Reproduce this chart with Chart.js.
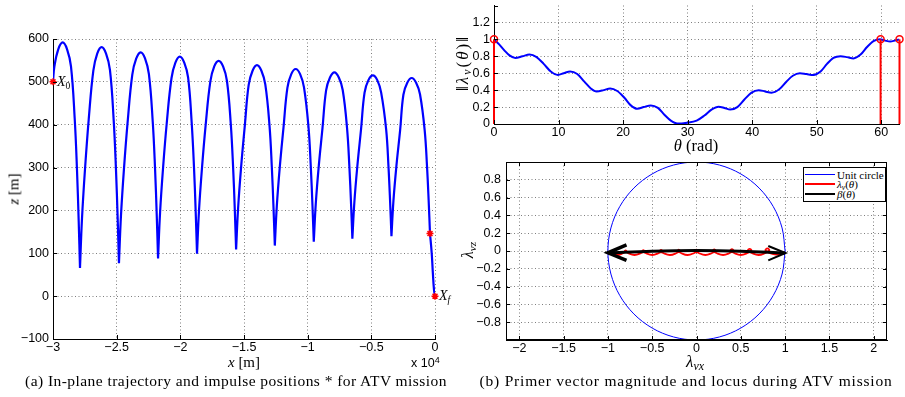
<!DOCTYPE html>
<html><head><meta charset="utf-8">
<script src="https://cdn.jsdelivr.net/npm/chart.js@4.4.1/dist/chart.umd.min.js"></script>
<style>
html,body{margin:0;padding:0;background:#fff;}
#wrap{position:relative;width:905px;height:397px;overflow:hidden;background:#fff;}
canvas{position:absolute;}
.t{position:absolute;font-family:"Liberation Serif","Times New Roman",serif;color:#000;white-space:nowrap;line-height:1;z-index:5;}
.c{transform:translate(-50%,-50%);}
.r{transform:translate(-50%,-50%) rotate(-90deg);}
sub{font-size:70%;vertical-align:-0.3em;line-height:0;}
sup{font-size:72%;vertical-align:0.45em;line-height:0;}
.leg{position:absolute;border:1px solid #000;background:#fff;z-index:6;box-sizing:border-box;}
.leg .ln{position:absolute;left:1px;width:30px;}
.leg .lt{position:absolute;left:33px;font-family:"Liberation Serif","Times New Roman",serif;font-size:11px;line-height:1;transform:translateY(-50%);white-space:nowrap;}
</style></head>
<body><div id="wrap">
<canvas id="cA" width="470" height="397" style="left:0;top:0;width:470px;height:397px"></canvas>
<canvas id="cB" width="455" height="155" style="left:450px;top:0;width:455px;height:155px"></canvas>
<canvas id="cC" width="455" height="242" style="left:450px;top:155px;width:455px;height:242px"></canvas>

<div class="t r" style="left:14px;top:189px;font-size:15px"><i>z</i> [m]</div>
<div class="t c" style="left:244px;top:362px;font-size:15px"><i>x</i> [m]</div>
<div class="t" style="left:411px;top:357px;font-family:'Liberation Sans',Arial,sans-serif;font-size:12.5px">x 10<sup>4</sup></div>
<div class="t r" style="left:462px;top:63px;font-size:17px;letter-spacing:2px">‖<i>λ<sub>v</sub></i>(<i>θ</i>)‖</div>
<div class="t c" style="left:696px;top:146px;font-size:16.5px"><i>θ</i> (rad)</div>
<div class="t r" style="left:468px;top:250px;font-size:16px"><i>λ<sub>vz</sub></i></div>
<div class="t c" style="left:695px;top:361px;font-size:17px"><i>λ<sub>vx</sub></i></div>
<div class="t c" style="left:236px;top:381px;font-size:15.5px;letter-spacing:0.45px">(a) In-plane trajectory and impulse positions * for ATV mission</div>
<div class="t c" style="left:686px;top:381px;font-size:15.5px;letter-spacing:0.8px">(b) Primer vector magnitude and locus during ATV mission</div>

<div class="leg" style="left:803px;top:167px;width:83px;height:35px">
  <div class="ln" style="top:6px;height:1px;background:#00f"></div><div class="lt" style="top:6.5px">Unit circle</div>
  <div class="ln" style="top:14.5px;height:2px;background:#f00"></div><div class="lt" style="top:15.5px"><i>λ<sub>v</sub></i>(<i>θ</i>)</div>
  <div class="ln" style="top:24.5px;height:2.5px;background:#000"></div><div class="lt" style="top:25.5px"><i>β</i>(<i>θ</i>)</div>
</div>
</div>
<script>
// ---------- (a) in-plane trajectory ----------
const trajX = [
-30000,-29890,-29587,-29240,-28893,-28588,-28297,-28116,-27982,-27880,
-27880,-27723,-27487,-27196,-26832,-26527,-26180,-25833,-25528,-25237,-25056,-24922,-24820,
-24820,-24663,-24427,-24136,-23772,-23467,-23120,-22773,-22468,-22167,-21986,-21852,-21750,
-21750,-21593,-21357,-21066,-20692,-20387,-20040,-19693,-19388,-19107,-18926,-18792,-18690,
-18690,-18533,-18297,-18006,-17642,-17337,-16990,-16643,-16338,-16037,-15856,-15722,-15620,
-15620,-15463,-15227,-14936,-14632,-14327,-13980,-13633,-13328,-12997,-12816,-12682,-12580,
-12580,-12423,-12187,-11896,-11592,-11287,-10940,-10593,-10288,-9937,-9756,-9622,-9520,
-9520,-9363,-9127,-8836,-8552,-8247,-7900,-7553,-7248,-6907,-6726,-6592,-6490,
-6490,-6333,-6097,-5806,-5532,-5227,-4880,-4533,-4228,-3837,-3656,-3522,-3420,
-3420,-3263,-3027,-2736,-2482,-2177,-1830,-1483,-1178,-810,-629,-495,-393,
-393,-260,-170,-80,0];
const trajZ = [
500,536,576,592,576,536,415,295,175,66,
66,181,296,412,526,566,581,566,528,412,297,182,77,
77,187,297,407,517,554,569,555,518,407,298,188,88,
88,194,299,404,509,545,559,545,510,404,300,195,99,
99,200,300,401,501,536,549,536,502,401,301,201,109,
109,205,301,398,493,526,539,526,494,398,302,206,118,
118,210,302,394,486,518,530,518,487,395,303,211,127,
127,216,304,392,480,510,522,510,481,392,303,215,134,
134,219,304,390,475,504,515,504,475,389,304,218,140,
140,223,305,388,470,498,509,498,471,387,304,221,146,
146,101,55,15,0];
const impX = [-30000, -393, 0];
const impZ = [500, 146, 0];
const pointNames = ['X', '', 'X'];
const pointSubs = ['0', '', 'f'];
const xTicksA = {min:-30000, max:0, step:5000};
const zTicksA = {min:-100, max:600, step:100};

// ---------- (b) primer vector magnitude ----------
const thetaVals = [0,0.8,1.6,2.4,3.3,4.4,5.5,6.6,7.7,8.8,9.9,10.8,11.8,12.9,14.0,15.0,15.9,17.0,18.0,19.1,20.2,21.2,22.2,23.2,24.3,25.4,26.4,27.4,28.4,29.9,31.4,32.6,33.7,34.8,35.7,36.6,37.7,38.8,39.9,41.0,42.0,43.0,44.2,45.3,46.3,47.4,48.4,49.5,50.6,51.6,52.6,53.7,54.7,55.7,56.8,57.8,58.8,59.8,60.6,61.4,62.1,62.83];
const primerMag = [1.0,0.94,0.87,0.81,0.78,0.80,0.82,0.79,0.71,0.62,0.58,0.60,0.62,0.59,0.50,0.42,0.385,0.40,0.42,0.39,0.31,0.22,0.18,0.20,0.22,0.19,0.11,0.04,0.005,0.015,0.04,0.10,0.17,0.205,0.19,0.17,0.20,0.29,0.37,0.40,0.385,0.37,0.41,0.50,0.57,0.60,0.59,0.58,0.62,0.71,0.78,0.80,0.79,0.775,0.82,0.91,0.98,1.0,0.985,0.975,0.985,1.0];
const stemTheta = [0, 59.9, 62.83];
const stemTop = [1, 1, 1];

// ---------- (b) locus ----------
const circleX = [1,0.9659,0.866,0.7071,0.5,0.2588,0,-0.2588,-0.5,-0.7071,-0.866,-0.9659,-1,-0.9659,-0.866,-0.7071,-0.5,-0.2588,0,0.2588,0.5,0.7071,0.866,0.9659,1];
const circleY = [0,0.2588,0.5,0.7071,0.866,0.9659,1,0.9659,0.866,0.7071,0.5,0.2588,0,-0.2588,-0.5,-0.7071,-0.866,-0.9659,-1,-0.9659,-0.866,-0.7071,-0.5,-0.2588,0];
const locusX = [-1.0,-0.9,-0.83,-0.792,-0.8,-0.808,-0.77,-0.7,-0.63,-0.591,-0.6,-0.609,-0.57,-0.5,-0.43,-0.39,-0.4,-0.41,-0.37,-0.3,-0.23,-0.189,-0.2,-0.211,-0.17,-0.1,-0.03,0.012,0,-0.012,0.03,0.1,0.17,0.214,0.2,0.186,0.23,0.3,0.37,0.416,0.4,0.384,0.43,0.5,0.57,0.619,0.6,0.581,0.63,0.7,0.77,0.822,0.8,0.778,0.83,0.9,1.0];
const locusY = [-0.01,-0.045,-0.025,0.0,0.008,0.0,-0.025,-0.045,-0.025,0.001,0.01,0.001,-0.025,-0.045,-0.025,0.002,0.012,0.002,-0.025,-0.045,-0.025,0.003,0.014,0.003,-0.025,-0.045,-0.025,0.004,0.016,0.004,-0.025,-0.045,-0.025,0.004,0.018,0.004,-0.025,-0.045,-0.025,0.005,0.021,0.005,-0.025,-0.045,-0.025,0.006,0.025,0.006,-0.025,-0.045,-0.025,0.008,0.03,0.008,-0.025,-0.04,-0.02];
const betaX = [-1.0,-0.5,0,0.5,1.0];
const betaY = [-0.02,-0.002,0.005,-0.002,-0.022];
const arrowLX = [-0.79,-1.0,-0.79];
const arrowLY = [0.07,-0.02,-0.105];
const arrowRX = [0.81,1.005,0.81];
const arrowRY = [0.056,-0.022,-0.105];

// ---------- helpers ----------
const pts = (xs, ys) => xs.map((x, i) => ({x, y: ys[i]}));
const gridCol = 'rgba(0,0,0,0.5)';
const tickFont = {family:'"Liberation Sans", Arial, Helvetica, sans-serif', size:12.5};
const numFmt = v => { const r = Math.round(v * 100) / 100; return r < 0 ? '\u2212' + String(-r) : String(r); };

function axis(dir, o) {
  return {
    type:'linear', min:o.min, max:o.max,
    grid:{drawTicks:false, lineWidth:1, color: o.gridColor || gridCol},
    border:{display:true, color:'#000', width:1, dash:[1,2.5]},
    ticks:{stepSize:o.step, includeBounds:false, autoSkip:false, maxRotation:0, minRotation:0,
           color:'#000', font:tickFont, padding:o.pad, callback:o.fmt || numFmt},
    afterFit(s) {
      if (dir === 'x') s.height = o.size; else s.width = o.size;
      s.paddingLeft = 0; s.paddingRight = 0; s.paddingTop = 0; s.paddingBottom = 0;
    }
  };
}

const axisDecor = {
  id:'axisDecor',
  afterDatasetsDraw(chart, args, o) {
    const {ctx, chartArea:a, scales} = chart;
    const L = o.len || 4;
    ctx.save();
    ctx.strokeStyle = '#000'; ctx.lineWidth = 1; ctx.setLineDash([]);
    ctx.beginPath();
    scales.x.ticks.forEach(t => {
      const p = Math.round(scales.x.getPixelForValue(t.value)) + 0.5;
      ctx.moveTo(p, a.bottom); ctx.lineTo(p, a.bottom - L);
      if (o.box) { ctx.moveTo(p, a.top); ctx.lineTo(p, a.top + L); }
    });
    scales.y.ticks.forEach(t => {
      const p = Math.round(scales.y.getPixelForValue(t.value)) + 0.5;
      ctx.moveTo(a.left, p); ctx.lineTo(a.left + L, p);
      if (o.box) { ctx.moveTo(a.right, p); ctx.lineTo(a.right - L, p); }
    });
    ctx.stroke();
    if (o.box) {
      ctx.strokeRect(Math.round(a.left) + 0.5, Math.round(a.top) + 0.5,
                     Math.round(a.right - a.left) - 1, Math.round(a.bottom - a.top) - 1);
    }
    ctx.restore();
  }
};

const ptLabels = {
  id:'ptLabels',
  afterDatasetsDraw(chart) {
    const {ctx, scales:{x, y}} = chart;
    ctx.save(); ctx.fillStyle = '#000'; ctx.textAlign = 'left'; ctx.textBaseline = 'alphabetic';
    impX.forEach((vx, i) => {
      if (!pointNames[i]) return;
      const px = x.getPixelForValue(vx), py = y.getPixelForValue(impZ[i]);
      ctx.font = 'italic 14px "Liberation Serif", serif';
      ctx.fillText(pointNames[i], px + 4, py + 4);
      const w = ctx.measureText(pointNames[i]).width;
      ctx.font = (pointSubs[i] === '0' ? '' : 'italic ') + '9.5px "Liberation Serif", serif';
      ctx.fillText(pointSubs[i], px + 4 + w, py + 7);
    });
    ctx.restore();
  }
};

const base = {responsive:false, animation:false, devicePixelRatio:1, events:[],
  plugins:{legend:{display:false}, tooltip:{enabled:false}}};

// ---------- chart A ----------
new Chart(document.getElementById('cA'), {
  type:'line',
  data:{datasets:[
    {data:pts(impX, impZ), showLine:false, pointStyle:'star', pointRadius:3.5, pointBorderWidth:1.5,
     pointBorderColor:'#f00', pointBackgroundColor:'#f00', clip:false},
    {data:pts([impX[0], impX[2]], [impZ[0], impZ[2]]), showLine:false, pointStyle:'circle', pointRadius:1.2,
     pointBorderWidth:0, pointBackgroundColor:'#0a0', clip:false},
    {data:pts(trajX, trajZ), borderColor:'#00f', borderWidth:2.2, pointRadius:0, tension:0.4, fill:false}
  ]},
  options:Object.assign({}, base, {
    layout:{padding:{left:0, top:39, right:35, bottom:38}},
    scales:{
      x:axis('x', {min:xTicksA.min, max:xTicksA.max, step:xTicksA.step, size:20, pad:1,
                   fmt:v => numFmt(v / 1e4)}),
      y:axis('y', {min:zTicksA.min, max:zTicksA.max, step:zTicksA.step, size:53, pad:4})
    },
    plugins:Object.assign({}, base.plugins, {axisDecor:{len:4, box:false}})
  }),
  plugins:[axisDecor, ptLabels]
});

// ---------- chart B ----------
const stemSets = stemTheta.map((t, i) => ({
  data:pts([t, t], [0, stemTop[i]]), borderColor:'#f00', borderWidth:2,
  pointRadius:[0, 3.5], pointBorderWidth:1.5, pointBorderColor:'#f00', pointBackgroundColor:'rgba(255,255,255,0)', clip:false
}));
new Chart(document.getElementById('cB'), {
  type:'line',
  data:{datasets:stemSets.concat([
    {data:pts(thetaVals, primerMag), borderColor:'#00f', borderWidth:2, pointRadius:0, cubicInterpolationMode:'monotone'}
  ])},
  options:Object.assign({}, base, {
    layout:{padding:{left:0, top:4.7, right:5.5, bottom:13}},
    scales:{
      x:axis('x', {min:0, max:62.83, step:10, size:18, pad:1}),
      y:axis('y', {min:0, max:1.4, step:0.2, size:44, pad:4,
                   fmt:v => v > 1.3 ? '' : numFmt(v),
                   gridColor:c => (c.tick && c.tick.value > 1.3) ? 'rgba(0,0,0,0)' : gridCol})
    },
    plugins:Object.assign({}, base.plugins, {axisDecor:{len:4, box:false}})
  }),
  plugins:[axisDecor]
});

// ---------- chart C ----------
new Chart(document.getElementById('cC'), {
  type:'line',
  data:{datasets:[
    {data:pts(betaX, betaY), borderColor:'#000', borderWidth:3, pointRadius:0, tension:0.4},
    {data:pts(arrowLX, arrowLY), borderColor:'#000', borderWidth:3.5, pointRadius:0, tension:0},
    {data:pts(arrowRX, arrowRY), borderColor:'#000', borderWidth:2, pointRadius:0, tension:0},
    {data:pts(locusX, locusY), borderColor:'#f00', borderWidth:1.8, pointRadius:0, tension:0.4},
    {data:pts(circleX, circleY), borderColor:'#00f', borderWidth:1, pointRadius:0, tension:0.34}
  ]},
  options:Object.assign({}, base, {
    layout:{padding:{left:0, top:7, right:18, bottom:39}},
    scales:{
      x:axis('x', {min:-2.15, max:2.15, step:0.5, size:18, pad:1}),
      y:axis('y', {min:-1, max:1, step:0.2, size:56, pad:5, fmt:v => Math.abs(v) > 0.9 ? '' : numFmt(v)})
    },
    plugins:Object.assign({}, base.plugins, {axisDecor:{len:4, box:true}})
  }),
  plugins:[axisDecor]
});
</script>
</body></html>
